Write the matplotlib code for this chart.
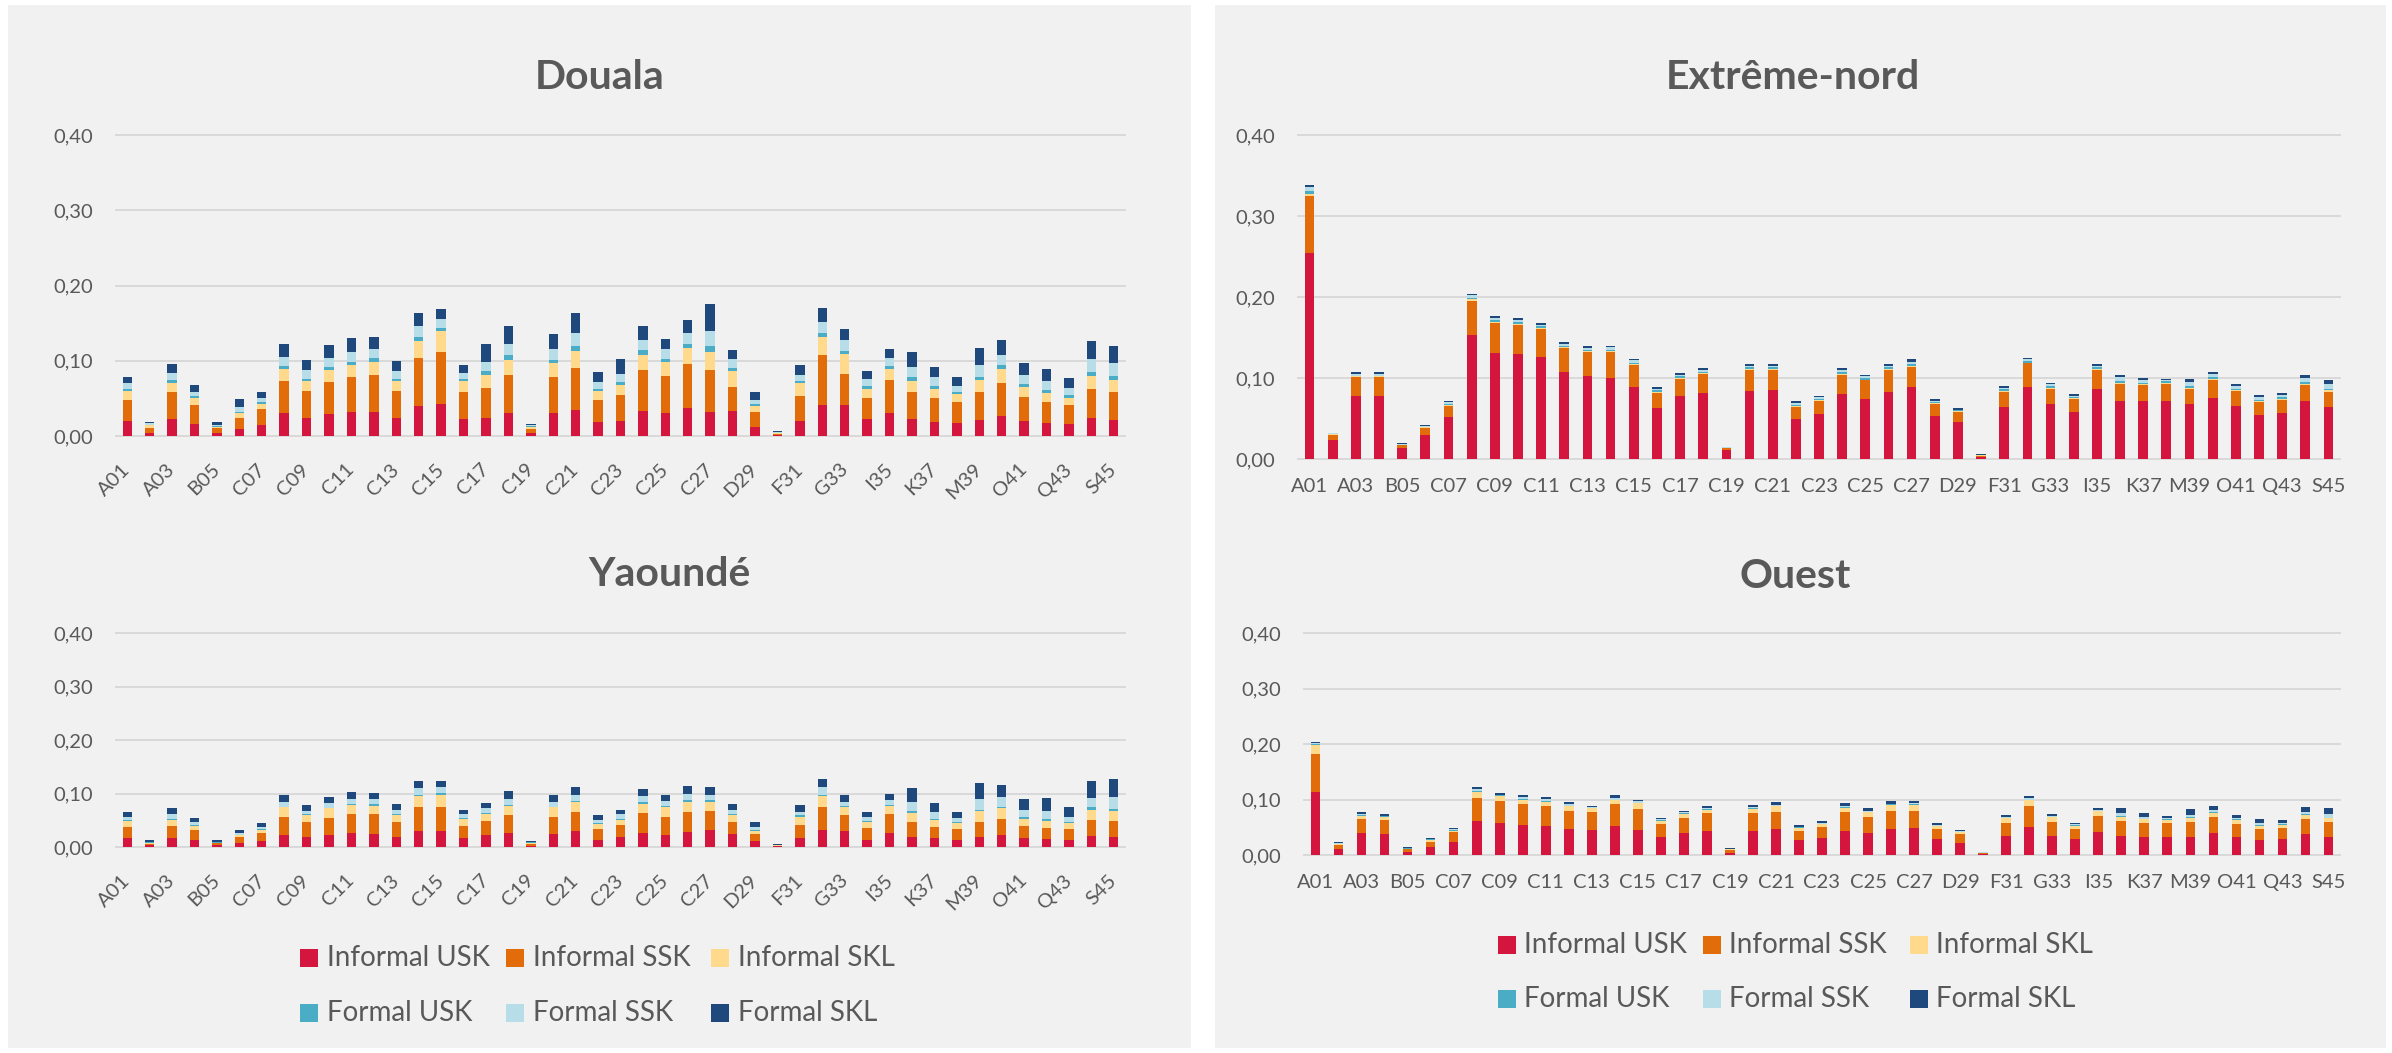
import numpy as np
import matplotlib
matplotlib.use("Agg")
import matplotlib.pyplot as plt
from matplotlib.patches import Rectangle

plt.rcParams["font.family"] = ["Lato", "DejaVu Sans"]

# codes des secteurs (45), une étiquette sur deux est affichée
sectors = ["A01", "A02", "A03", "B04", "B05", "C06", "C07", "C08", "C09", "C10",
           "C11", "C12", "C13", "C14", "C15", "C16", "C17", "C18", "C19", "C20",
           "C21", "C22", "C23", "C24", "C25", "C26", "C27", "C28", "D29", "E30",
           "F31", "G32", "G33", "H34", "I35", "J36", "K37", "L38", "M39", "N40",
           "O41", "P42", "Q43", "R44", "S45"]

series_names = ["Informal USK", "Informal SSK", "Informal SKL",
                "Formal USK", "Formal SSK", "Formal SKL"]
series_colors = ["#D4163F", "#E36C0A", "#FFD98C", "#4BACC6", "#B7DEE8", "#1F497D"]

# Douala
douala_inf_usk = [.020, .004, .023, .016, .004, .009, .014, .030, .024, .029,
                  .032, .032, .024, .040, .042, .023, .024, .031, .004, .030,
                  .034, .018, .020, .033, .031, .037, .032, .033, .012, .001,
                  .020, .041, .041, .022, .030, .023, .019, .017, .021, .027,
                  .020, .017, .016, .024, .021]
douala_inf_ssk = [.028, .007, .035, .025, .006, .015, .022, .043, .036, .043,
                  .047, .049, .036, .064, .069, .036, .040, .050, .005, .049,
                  .057, .030, .034, .055, .049, .059, .056, .032, .020, .002,
                  .033, .067, .041, .029, .044, .036, .031, .028, .037, .044,
                  .032, .028, .025, .039, .038]
douala_inf_skl = [.012, .003, .013, .010, .002, .006, .007, .016, .013, .016,
                  .016, .017, .013, .022, .029, .014, .017, .020, .003, .018,
                  .022, .012, .014, .020, .018, .021, .024, .022, .008, .001,
                  .017, .023, .027, .012, .015, .014, .013, .011, .016, .018,
                  .013, .012, .010, .017, .016]
douala_for_usk = [.002, .001, .004, .002, .001, .002, .002, .004, .003, .004,
                  .004, .005, .003, .006, .004, .003, .005, .006, .001, .004,
                  .007, .003, .004, .006, .004, .005, .008, .003, .002, .0005,
                  .003, .006, .004, .004, .004, .005, .004, .003, .005, .005,
                  .004, .004, .003, .005, .005]
douala_for_ssk = [.008, .002, .009, .006, .002, .006, .006, .012, .012, .012,
                  .013, .012, .011, .014, .012, .008, .012, .015, .001, .014,
                  .017, .009, .011, .013, .013, .015, .019, .012, .006, .0005,
                  .008, .015, .015, .009, .011, .014, .011, .008, .016, .014,
                  .012, .012, .010, .017, .017]
douala_for_skl = [.009, .002, .012, .009, .003, .011, .007, .017, .013, .017,
                  .018, .017, .013, .018, .013, .010, .024, .024, .002, .020,
                  .027, .013, .019, .019, .014, .017, .037, .012, .010, .001,
                  .014, .018, .014, .011, .012, .020, .014, .011, .022, .020,
                  .016, .016, .013, .024, .023]

# Yaoundé
yaounde_inf_usk = [.016, .003, .016, .013, .003, .008, .011, .023, .018, .023,
                   .026, .025, .018, .030, .030, .016, .022, .026, .002, .024,
                   .029, .014, .018, .026, .022, .028, .031, .024, .011, .001,
                   .016, .031, .030, .013, .026, .018, .016, .014, .019, .022,
                   .016, .015, .013, .020, .019]
yaounde_inf_ssk = [.021, .003, .024, .018, .004, .010, .015, .034, .028, .032,
                   .036, .036, .028, .044, .045, .024, .026, .034, .004, .033,
                   .037, .020, .023, .037, .034, .038, .036, .022, .014, .001,
                   .025, .044, .029, .023, .036, .028, .022, .020, .028, .031,
                   .023, .021, .020, .031, .029]
yaounde_inf_skl = [.011, .002, .011, .009, .001, .004, .006, .017, .013, .017,
                   .016, .016, .013, .021, .023, .012, .013, .016, .002, .017,
                   .018, .009, .009, .018, .018, .019, .018, .013, .005, .001,
                   .015, .021, .016, .011, .014, .018, .013, .010, .020, .019,
                   .014, .013, .011, .019, .020]
yaounde_for_usk = [.002, .001, .002, .001, .001, .001, .001, .001, .002, .001,
                   .003, .003, .002, .002, .003, .002, .003, .003, .001, .001,
                   .002, .002, .003, .003, .002, .003, .002, .002, .002, .0003,
                   .004, .002, .001, .002, .003, .003, .002, .002, .003, .003,
                   .003, .003, .002, .004, .003]
yaounde_for_ssk = [.007, .001, .009, .006, .001, .003, .005, .009, .007, .009,
                   .009, .009, .009, .013, .011, .007, .008, .011, .001, .010,
                   .012, .005, .008, .011, .010, .012, .011, .008, .005, .001,
                   .005, .014, .009, .007, .009, .017, .012, .008, .019, .018,
                   .013, .016, .010, .018, .022]
yaounde_for_skl = [.008, .003, .011, .008, .003, .006, .007, .013, .011, .012,
                   .012, .012, .011, .014, .011, .008, .011, .014, .002, .013,
                   .014, .010, .009, .013, .012, .014, .014, .011, .009, .001,
                   .014, .016, .013, .009, .011, .026, .018, .011, .031, .022,
                   .020, .023, .018, .032, .034]

# Extrême-nord
extreme_inf_usk = [.254, .023, .078, .078, .014, .030, .052, .153, .131, .130,
                   .126, .107, .103, .100, .089, .063, .078, .081, .011, .084,
                   .085, .050, .056, .080, .074, .083, .089, .053, .046, .003,
                   .064, .089, .068, .058, .086, .072, .071, .072, .068, .075,
                   .065, .054, .057, .071, .064]
extreme_inf_ssk = [.071, .007, .023, .023, .003, .008, .014, .042, .037, .036,
                   .035, .030, .029, .032, .027, .019, .021, .024, .002, .026,
                   .025, .014, .016, .024, .023, .027, .024, .015, .012, .001,
                   .019, .029, .019, .016, .024, .021, .020, .021, .019, .022,
                   .019, .016, .016, .020, .019]
extreme_inf_skl = [.002, .001, .001, .001, .0004, .001, .001, .002, .001, .001,
                   .001, .001, .001, .001, .001, .001, .001, .001, .0004, .001,
                   .001, .001, .001, .001, .001, .001, .002, .001, .001, .0004,
                   .001, .001, .001, .001, .001, .001, .001, .001, .001, .002,
                   .001, .001, .001, .002, .002]
extreme_for_usk = [.004, .0004, .001, .001, .0004, .001, .001, .002, .002, .002,
                   .002, .002, .002, .002, .002, .002, .002, .002, .0004, .002,
                   .002, .002, .001, .003, .002, .002, .002, .001, .001, .0004,
                   .002, .002, .002, .001, .002, .002, .002, .002, .002, .002,
                   .002, .002, .002, .002, .002]
extreme_for_ssk = [.005, .0004, .002, .002, .001, .001, .002, .003, .003, .003,
                   .002, .002, .002, .003, .003, .002, .002, .002, .0004, .002,
                   .002, .002, .002, .002, .002, .002, .003, .002, .001, .0004,
                   .002, .002, .002, .002, .002, .005, .003, .001, .005, .004,
                   .003, .003, .003, .005, .005]
extreme_for_skl = [.002, .0004, .002, .002, .001, .001, .001, .002, .002, .002,
                   .002, .002, .002, .002, .002, .002, .002, .002, .001, .002,
                   .002, .002, .002, .002, .002, .002, .003, .002, .002, .0004,
                   .002, .002, .002, .002, .002, .003, .003, .002, .004, .003,
                   .002, .003, .002, .004, .005]

# Ouest
ouest_inf_usk = [.114, .011, .039, .038, .006, .015, .023, .062, .058, .054,
                 .052, .046, .045, .052, .045, .032, .039, .043, .004, .043,
                 .046, .027, .030, .043, .040, .046, .048, .028, .022, .002,
                 .034, .050, .035, .028, .041, .035, .033, .033, .033, .039,
                 .032, .027, .029, .037, .033]
ouest_inf_ssk = [.068, .007, .025, .025, .004, .009, .018, .041, .039, .037,
                 .036, .034, .032, .039, .037, .024, .027, .032, .005, .032,
                 .032, .017, .020, .034, .029, .034, .032, .018, .015, .001,
                 .024, .039, .024, .019, .030, .027, .025, .024, .027, .029,
                 .024, .020, .019, .027, .027]
ouest_inf_skl = [.017, .001, .007, .006, .001, .003, .003, .011, .010, .009,
                 .008, .008, .007, .008, .011, .006, .008, .006, .001, .008,
                 .010, .005, .005, .008, .008, .010, .010, .006, .004, .001,
                 .008, .010, .009, .006, .008, .007, .006, .006, .006, .008,
                 .007, .006, .006, .008, .006]
ouest_for_usk = [.001, .001, .001, .001, .001, .001, .001, .002, .001, .001,
                 .002, .001, .001, .001, .001, .001, .001, .001, .0005, .001,
                 .001, .001, .001, .001, .001, .001, .001, .001, .001, .0005,
                 .001, .001, .001, .001, .001, .001, .001, .001, .002, .001,
                 .001, .001, .001, .001, .001]
ouest_for_ssk = [.001, .001, .001, .001, .001, .001, .001, .003, .001, .003,
                 .003, .002, .001, .003, .003, .001, .002, .003, .0005, .002,
                 .001, .001, .001, .002, .002, .001, .002, .001, .001, .0005,
                 .002, .003, .001, .001, .001, .005, .003, .002, .004, .004,
                 .002, .003, .002, .004, .006]
ouest_for_skl = [.003, .002, .004, .002, .001, .002, .002, .003, .003, .004,
                 .004, .004, .003, .006, .003, .003, .003, .004, .001, .004,
                 .006, .003, .004, .005, .004, .005, .005, .003, .002, .001,
                 .003, .004, .003, .003, .003, .009, .007, .004, .010, .008,
                 .006, .007, .006, .010, .011]

W, H = 2392, 1053
TXT = "#595959"
GRID = "#D9D9D9"
PANEL = "#F1F1F1"

fig = plt.figure(figsize=(W / 100, H / 100), dpi=100)
fig.patch.set_facecolor("white")


# position en pixels (haut-gauche / bas-droite) -> coordonnées figure
def px_box(x0, y0, x1, y1):
    return [x0 / W, 1 - y1 / H, (x1 - x0) / W, (y1 - y0) / H]


def add_rect(x0, y0, x1, y1, color):
    b = px_box(x0, y0, x1, y1)
    fig.add_artist(Rectangle((b[0], b[1]), b[2], b[3], transform=fig.transFigure,
                             facecolor=color, edgecolor="none", zorder=0))


# fonds gris des deux blocs
add_rect(8, 5, 1191, 1048, PANEL)
add_rect(1215, 5, 2386, 1048, PANEL)


def draw_region(box, series, rotate):
    ax = fig.add_axes(px_box(*box))
    ax.patch.set_alpha(0)
    x = np.arange(len(sectors))
    bottom = np.zeros(len(sectors))
    for vals, color in zip(series, series_colors):
        vals = np.array(vals)
        ax.bar(x, vals, width=0.42, bottom=bottom, color=color, linewidth=0, zorder=2)
        bottom += vals

    ax.set_xlim(-0.5, len(sectors) - 0.5)
    ax.set_ylim(0, 0.40)
    ticks = [0.0, 0.1, 0.2, 0.3, 0.4]
    ax.set_yticks(ticks)
    ax.set_yticklabels([f"{t:.2f}".replace(".", ",") for t in ticks])
    for t in ticks:
        ax.axhline(t, color=GRID, lw=1.4, zorder=1, clip_on=False)

    ax.set_xticks(x[::2])
    if rotate:
        ax.set_xticklabels(sectors[::2], rotation=45, ha="right", va="center",
                           rotation_mode="anchor")
        ax.tick_params(axis="x", pad=22)
    else:
        ax.set_xticklabels(sectors[::2])
        ax.tick_params(axis="x", pad=14)
    ax.tick_params(axis="y", pad=16.5)
    ax.tick_params(length=0, labelsize=14.5, labelcolor=TXT)
    for s in ax.spines.values():
        s.set_visible(False)
    return ax


def draw_title(cx, baseline, name):
    fig.text(cx / W, 1 - baseline / H, name, ha="center", va="baseline",
             fontsize=29.5, fontweight="bold", color=TXT)


def draw_legend(mx, rows_y, text_off):
    for k, (name, color) in enumerate(zip(series_names, series_colors)):
        r, c = divmod(k, 3)
        x, y = mx[c], rows_y[r]
        add_rect(x, y - 9, x + 18, y + 9, color)
        fig.text((x + text_off) / W, 1 - y / H, name, fontsize=20, color=TXT,
                 ha="left", va="center")


draw_region((116, 135, 1125, 436),
            [douala_inf_usk, douala_inf_ssk, douala_inf_skl,
             douala_for_usk, douala_for_ssk, douala_for_skl], True)
draw_region((116, 633, 1125, 847),
            [yaounde_inf_usk, yaounde_inf_ssk, yaounde_inf_skl,
             yaounde_for_usk, yaounde_for_ssk, yaounde_for_skl], True)
draw_region((1298, 135, 2340, 459),
            [extreme_inf_usk, extreme_inf_ssk, extreme_inf_skl,
             extreme_for_usk, extreme_for_ssk, extreme_for_skl], False)
draw_region((1304, 633, 2340, 855),
            [ouest_inf_usk, ouest_inf_ssk, ouest_inf_skl,
             ouest_for_usk, ouest_for_ssk, ouest_for_skl], False)

draw_title(600, 89, "Douala")
draw_title(669, 586, "Yaoundé")
draw_title(1793, 89, "Extrême-nord")
draw_title(1795, 588, "Ouest")

draw_legend([300, 506, 711], [958, 1013], 27)
draw_legend([1498, 1703, 1910], [945, 999], 26)

fig.savefig("out.png", dpi=100, facecolor="white")
